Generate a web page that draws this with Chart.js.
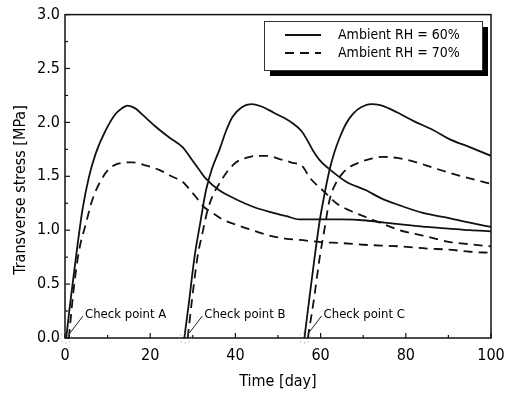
<!DOCTYPE html>
<html>
<head>
<meta charset="utf-8">
<script src="https://cdn.jsdelivr.net/npm/chart.js@4"></script>
<style>
  html, body { margin: 0; padding: 0; background: #fff; }
  #wrap { width: 514px; height: 393px; }
</style>
</head>
<body>
<div id="wrap"><canvas id="chart" width="514" height="393"></canvas></div>
<script>
// values, one segment per check point
const rh60Days = [
  [0.3, 1, 1.7, 2.9, 4.1, 5.6, 7.2, 9.6, 11.9, 13.3, 14.7, 16.5, 18.5, 21.3, 24.5, 27.6, 29.5, 31.5, 33, 36.2, 40, 44, 48, 52, 55, 60, 65, 70.7, 75, 80, 85, 90, 95, 100],
  [28, 29, 30.4, 31.8, 33.1, 34.5, 36.2, 37.8, 39.3, 41.5, 43.7, 46, 49, 51.5, 53.5, 55.5, 56.8, 58.2, 60, 62.9, 66, 70.7, 74, 78.6, 84, 90.4, 95, 100],
  [56.2, 57.4, 58.6, 59.8, 61, 62.1, 63.3, 64.5, 66, 67.6, 69.5, 71.9, 74, 76, 78.6, 82, 86.4, 90, 95, 100]
];
const rh60Stress = [
  [0, 0.25, 0.475, 0.85, 1.19, 1.49, 1.71, 1.93, 2.08, 2.13, 2.155, 2.13, 2.06, 1.96, 1.86, 1.77, 1.67, 1.56, 1.48, 1.37, 1.29, 1.22, 1.17, 1.13, 1.10, 1.10, 1.10, 1.09, 1.07, 1.05, 1.03, 1.015, 1.0, 0.99],
  [0, 0.3, 0.75, 1.08, 1.37, 1.57, 1.74, 1.92, 2.05, 2.14, 2.17, 2.15, 2.09, 2.04, 1.99, 1.92, 1.84, 1.74, 1.64, 1.54, 1.45, 1.37, 1.30, 1.23, 1.16, 1.11, 1.07, 1.03],
  [0, 0.38, 0.75, 1.09, 1.35, 1.56, 1.73, 1.86, 1.99, 2.08, 2.14, 2.17, 2.16, 2.13, 2.08, 2.01, 1.93, 1.85, 1.77, 1.69]
];
const rh70Days = [
  [0.9, 2.1, 3.3, 4.9, 6.4, 8.4, 10.4, 12.7, 15.8, 19, 22.1, 25, 27.6, 29, 30.7, 32.5, 34.7, 37, 40.2, 44, 48, 52, 55, 60, 65, 70, 78.6, 85, 90, 95, 100],
  [28.8, 29.8, 31.1, 32.3, 33.5, 34.8, 36.2, 38, 40.2, 42.5, 44.9, 47.5, 50.4, 53, 55.8, 57.4, 60.5, 63.7, 67, 70.7, 74.5, 78.6, 84, 90.4, 95, 100],
  [57, 58.4, 59.8, 61, 62.1, 63.5, 65.2, 67, 69.2, 71.5, 74.6, 78, 82.5, 86, 90.4, 95, 100]
];
const rh70Stress = [
  [0, 0.475, 0.81, 1.06, 1.28, 1.46, 1.57, 1.62, 1.63, 1.60, 1.56, 1.50, 1.45, 1.39, 1.31, 1.22, 1.16, 1.10, 1.05, 1.0, 0.95, 0.92, 0.91, 0.89, 0.88, 0.865, 0.85, 0.83, 0.82, 0.80, 0.79],
  [0, 0.35, 0.75, 0.98, 1.19, 1.33, 1.43, 1.54, 1.63, 1.67, 1.69, 1.69, 1.66, 1.63, 1.59, 1.49, 1.37, 1.25, 1.18, 1.12, 1.06, 1.0, 0.95, 0.89, 0.87, 0.85],
  [0, 0.35, 0.75, 1.03, 1.28, 1.43, 1.53, 1.59, 1.63, 1.66, 1.68, 1.67, 1.63, 1.585, 1.53, 1.48, 1.43]
];
const seriesLabels = ['Ambient RH = 60%', 'Ambient RH = 70%'];
const checkDays = [0, 28, 56];
const checkLabels = ['Check point A', 'Check point B', 'Check point C'];
const yTitle = 'Transverse stress [MPa]';

const FONT = 'DejaVu Sans Condensed, DejaVu Sans, sans-serif';

// join the segments, a null point breaks the line between them
function joinSegments(days, vals) {
  const pts = [];
  days.forEach((d, i) => {
    d.forEach((x, j) => pts.push({ x: x, y: vals[i][j] }));
    pts.push({ x: d[d.length - 1] + 0.01, y: null });
  });
  return pts;
}

// frame, inward ticks, y title, legend box and check point notes
const decor = {
  id: 'decor',
  afterDraw(chart) {
    const ctx = chart.ctx;
    const a = chart.chartArea;
    const xs = chart.scales.x, ys = chart.scales.y;
    ctx.save();
    ctx.strokeStyle = '#111';
    ctx.lineWidth = 1.5;
    ctx.strokeRect(a.left, a.top, a.right - a.left, a.bottom - a.top);

    ctx.lineWidth = 1.2;
    ys.ticks.forEach(t => {
      const y = ys.getPixelForValue(t.value);
      const len = Math.abs(t.value / 0.5 - Math.round(t.value / 0.5)) < 1e-6 ? 5 : 3;
      ctx.beginPath(); ctx.moveTo(a.left, y); ctx.lineTo(a.left + len, y); ctx.stroke();
    });
    xs.ticks.forEach(t => {
      const x = xs.getPixelForValue(t.value);
      const len = t.value % 20 === 0 ? 5 : 3;
      ctx.beginPath(); ctx.moveTo(x, a.bottom); ctx.lineTo(x, a.bottom - len); ctx.stroke();
    });

    // y axis title, sits a bit below the middle in the original
    ctx.save();
    ctx.translate(21, 190);
    ctx.rotate(-Math.PI / 2);
    ctx.fillStyle = '#000';
    ctx.font = '16px ' + FONT;
    ctx.textAlign = 'center';
    ctx.textBaseline = 'middle';
    ctx.fillText(yTitle, 0, 0);
    ctx.restore();

    // legend
    const lx = 264, ly = 21, lw = 218, lh = 49;
    ctx.fillStyle = '#000';
    ctx.fillRect(lx + 6, ly + 6, lw, lh);
    ctx.fillStyle = '#fff';
    ctx.fillRect(lx, ly, lw, lh);
    ctx.lineWidth = 1;
    ctx.strokeStyle = '#333';
    ctx.strokeRect(lx + 0.5, ly + 0.5, lw, lh);
    chart.data.datasets.forEach((ds, i) => {
      const y = ly + 14 + i * 18;
      ctx.strokeStyle = ds.borderColor;
      ctx.lineWidth = ds.borderWidth;
      ctx.setLineDash(ds.borderDash || []);
      ctx.beginPath(); ctx.moveTo(lx + 21, y); ctx.lineTo(lx + 57, y); ctx.stroke();
      ctx.setLineDash([]);
      ctx.fillStyle = '#000';
      ctx.font = '14px ' + FONT;
      ctx.textBaseline = 'middle';
      ctx.fillText(ds.label, lx + 74, y);
    });

    // check points
    ctx.font = '13px ' + FONT;
    ctx.textBaseline = 'alphabetic';
    checkDays.forEach((d, i) => {
      const px = xs.getPixelForValue(d);
      const py = ys.getPixelForValue(0);
      ctx.strokeStyle = '#222';
      ctx.lineWidth = 1;
      ctx.beginPath(); ctx.moveTo(px + 18, py - 22); ctx.lineTo(px + 5, py - 5); ctx.stroke();
      ctx.setLineDash([1, 3]);
      ctx.strokeStyle = '#777';
      ctx.beginPath(); ctx.ellipse(px + 1, py, 6, 5, 0, 0, Math.PI * 2); ctx.stroke();
      ctx.setLineDash([]);
      ctx.fillStyle = '#000';
      ctx.fillText(checkLabels[i], px + 20, py - 20);
    });
    ctx.restore();
  }
};

new Chart(document.getElementById('chart'), {
  type: 'line',
  data: {
    datasets: [
      {
        label: seriesLabels[0],
        data: joinSegments(rh60Days, rh60Stress),
        borderColor: '#111',
        borderWidth: 1.8,
        pointRadius: 0,
        cubicInterpolationMode: 'monotone',
        spanGaps: false
      },
      {
        label: seriesLabels[1],
        data: joinSegments(rh70Days, rh70Stress),
        borderColor: '#111',
        borderWidth: 1.8,
        borderDash: [9, 6],
        pointRadius: 0,
        cubicInterpolationMode: 'monotone',
        spanGaps: false
      }
    ]
  },
  options: {
    responsive: false,
    animation: false,
    layout: { padding: { top: 13, right: 23, left: 0, bottom: 0 } },
    plugins: { legend: { display: false }, tooltip: { enabled: false } },
    scales: {
      x: {
        type: 'linear',
        min: 0, max: 100,
        afterFit: s => { s.height = 55; },
        grid: { display: false, drawTicks: false },
        border: { display: false },
        ticks: {
          stepSize: 10, autoSkip: false, maxRotation: 0, padding: 8,
          color: '#000', font: { family: FONT, size: 16 },
          callback: v => (v % 20 === 0 ? String(v) : '')
        },
        title: { display: true, text: 'Time [day]', color: '#000', font: { family: FONT, size: 16 }, padding: { top: 0, bottom: 2 } }
      },
      y: {
        min: 0, max: 3,
        afterFit: s => { s.width = 65; },
        grid: { display: false, drawTicks: false },
        border: { display: false },
        ticks: {
          stepSize: 0.25, autoSkip: false, padding: 5,
          color: '#000', font: { family: FONT, size: 16 },
          callback: v => (Math.abs(v * 2 - Math.round(v * 2)) < 1e-6 ? v.toFixed(1) : '')
        },
        title: { display: false }
      }
    }
  },
  plugins: [decor]
});
</script>
</body>
</html>
